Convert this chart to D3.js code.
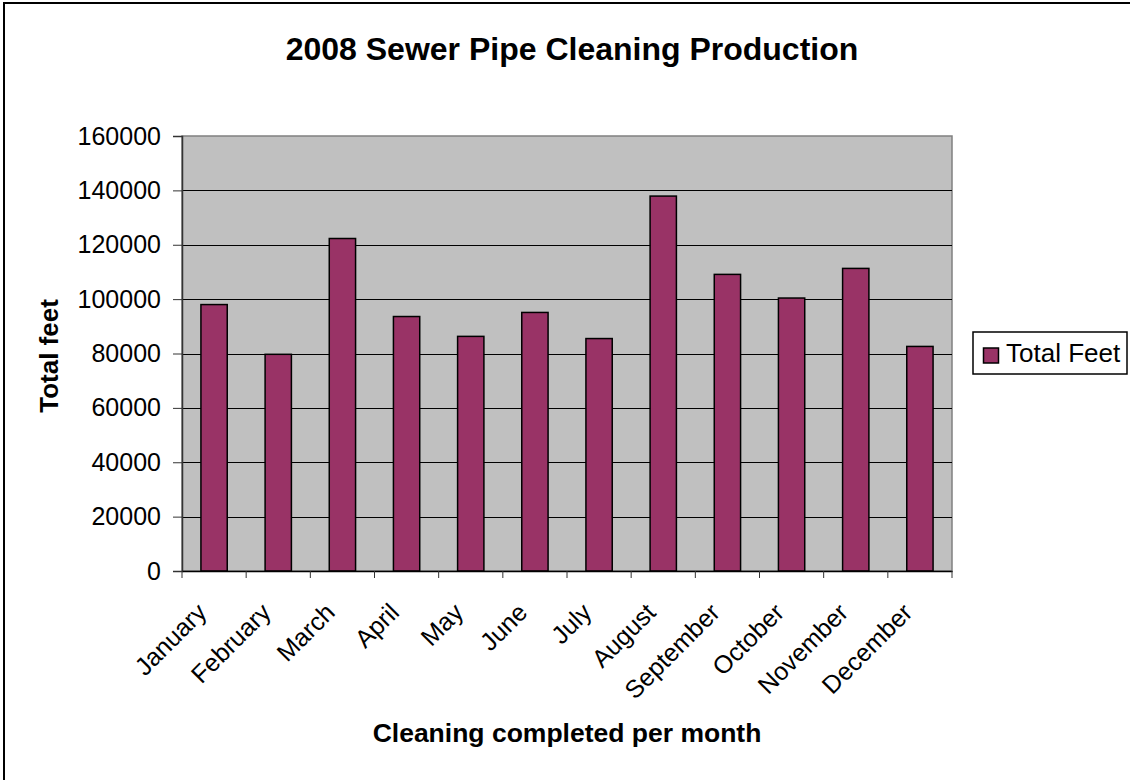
<!DOCTYPE html>
<html>
<head>
<meta charset="utf-8">
<script src="https://cdn.jsdelivr.net/npm/d3@7"></script>
<style>
  html, body { margin: 0; padding: 0; background: #ffffff; }
  svg { display: block; font-family: "Liberation Sans", Arial, sans-serif; }
</style>
</head>
<body>
<svg id="chart" width="1130" height="780"></svg>
<script>
const months = ["January","February","March","April","May","June","July","August","September","October","November","December"];
const totalFeet = [98000, 79700, 122300, 93600, 86300, 95100, 85500, 137900, 109100, 100400, 111300, 82600];
const yTicks = [0, 20000, 40000, 60000, 80000, 100000, 120000, 140000, 160000];
const seriesName = "Total Feet";
const titleText = "2008 Sewer Pipe Cleaning Production";
const xTitle = "Cleaning completed per month";
const yTitle = "Total feet";

const svg = d3.select("#chart");
const plot = {left: 182, right: 952, top: 136, bottom: 571};

// outer chart border
svg.append("rect").attr("x", 4).attr("y", 3).attr("width", 1140).attr("height", 800)
  .attr("fill", "#fff").attr("stroke", "#000").attr("stroke-width", 2);

const x = d3.scaleBand().domain(months).range([plot.left, plot.right]).paddingInner(0.59).paddingOuter(0.295);
const xb = d3.scaleBand().domain(months).range([plot.left, plot.right]).padding(0);
const y = d3.scaleLinear().domain([0, 160000]).range([plot.bottom, plot.top]);

// plot background
svg.append("rect").attr("x", plot.left).attr("y", plot.top)
  .attr("width", plot.right - plot.left).attr("height", plot.bottom - plot.top)
  .attr("fill", "#c0c0c0").attr("stroke", "#808080").attr("stroke-width", 1.5);

// gridlines
svg.append("g").selectAll("line").data(yTicks.filter(d => d > 0 && d < 160000)).join("line")
  .attr("x1", plot.left).attr("x2", plot.right)
  .attr("y1", d => Math.round(y(d)) + 0.5).attr("y2", d => Math.round(y(d)) + 0.5)
  .attr("stroke", "#000").attr("stroke-width", 1);

// bars
svg.append("g").selectAll("rect").data(months).join("rect")
  .attr("x", (d) => x(d))
  .attr("y", (d, i) => y(totalFeet[i]))
  .attr("width", x.bandwidth())
  .attr("height", (d, i) => y(0) - y(totalFeet[i]))
  .attr("fill", "#993366").attr("stroke", "#000").attr("stroke-width", 1.5);

// y axis
const yAxis = d3.axisLeft(y).tickValues(yTicks).tickSize(9).tickPadding(12).tickFormat(d3.format("d"));
const gy = svg.append("g").attr("transform", `translate(${plot.left},0)`).call(yAxis);
gy.select(".domain").attr("stroke", "#333").attr("stroke-width", 1.5);
gy.selectAll(".tick line").attr("stroke", "#333");
gy.selectAll(".tick text").attr("font-size", 25).attr("fill", "#000")
  .attr("font-family", "Liberation Sans, Arial, sans-serif");

// x axis
const xAxis = d3.axisBottom(xb).tickSize(0).tickFormat("");
const gx = svg.append("g").attr("transform", `translate(0,${plot.bottom})`).call(xAxis);
gx.select(".domain").attr("stroke", "#000").attr("stroke-width", 1.5);
// boundary ticks
const bounds = months.map(m => xb(m)).concat([plot.right]);
gx.append("g").selectAll("line").data(bounds).join("line")
  .attr("x1", d => d).attr("x2", d => d).attr("y1", 0).attr("y2", 7)
  .attr("stroke", "#333").attr("stroke-width", 1);
// rotated labels
gx.append("g").selectAll("text").data(months).join("text")
  .attr("transform", d => `translate(${xb(d) + xb.bandwidth() / 2 - 6},${43}) rotate(-45)`)
  .attr("text-anchor", "end")
  .attr("font-size", 25)
  .attr("fill", "#000")
  .text(d => d);

// title
svg.append("text").attr("x", 572).attr("y", 60).attr("text-anchor", "middle")
  .attr("font-size", 32).attr("font-weight", "bold").text(titleText);

// x title
svg.append("text").attr("x", 567).attr("y", 742).attr("text-anchor", "middle")
  .attr("font-size", 26.5).attr("font-weight", "bold").text(xTitle);

// y title
svg.append("text").attr("transform", "translate(58,356) rotate(-90)").attr("text-anchor", "middle")
  .attr("font-size", 26).attr("font-weight", "bold").text(yTitle);

// legend
const lg = svg.append("g");
lg.append("rect").attr("x", 973).attr("y", 332).attr("width", 154).attr("height", 42)
  .attr("fill", "#fff").attr("stroke", "#000").attr("stroke-width", 1.5);
lg.append("rect").attr("x", 983.5).attr("y", 348).attr("width", 15).attr("height", 15)
  .attr("fill", "#993366").attr("stroke", "#000").attr("stroke-width", 1.5);
lg.append("text").attr("x", 1006).attr("y", 362).attr("font-size", 26).attr("fill", "#000").text(seriesName);
</script>
</body>
</html>
